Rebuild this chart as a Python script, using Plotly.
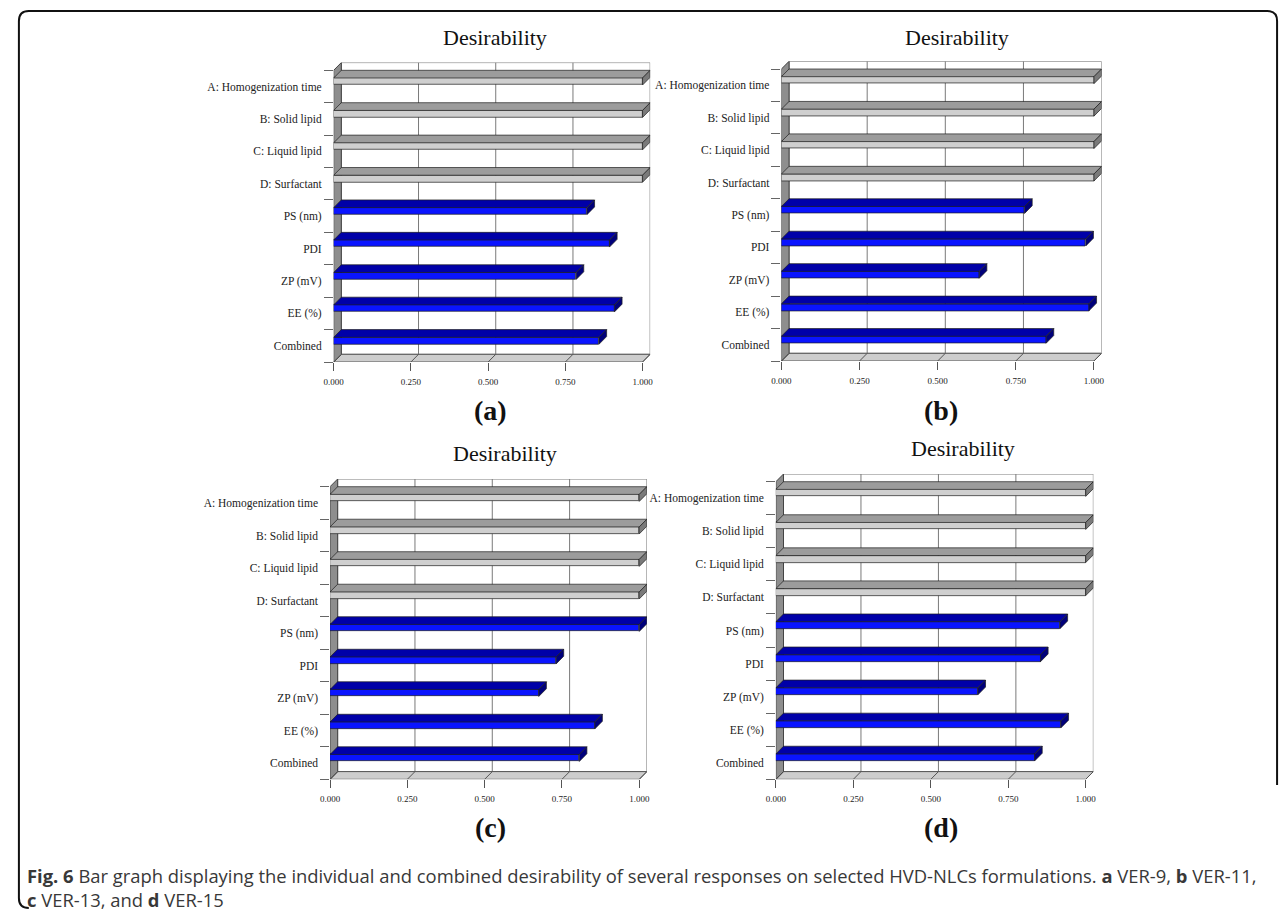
import plotly.graph_objects as go

# ---------------- data ----------------
categories = ["A: Homogenization time", "B: Solid lipid", "C: Liquid lipid", "D: Surfactant",
              "PS (nm)", "PDI", "ZP (mV)", "EE (%)", "Combined"]
factor_flags = [True, True, True, True, False, False, False, False, False]
desirability_a = [1.0, 1.0, 1.0, 1.0, 0.820, 0.893, 0.785, 0.909, 0.859]
desirability_b = [1.0, 1.0, 1.0, 1.0, 0.778, 0.974, 0.633, 0.984, 0.847]
desirability_c = [1.0, 1.0, 1.0, 1.0, 1.000, 0.731, 0.675, 0.856, 0.806]
desirability_d = [1.0, 1.0, 1.0, 1.0, 0.917, 0.854, 0.652, 0.920, 0.835]
x_ticks = [0.0, 0.25, 0.5, 0.75, 1.0]
panel_labels = ["(a)", "(b)", "(c)", "(d)"]
chart_title = "Desirability"
caption = ("<b>Fig. 6</b> Bar graph displaying the individual and combined desirability of several "
           "responses on selected HVD-NLCs formulations. <b>a</b> VER-9, <b>b</b> VER-11,<br>"
           "<b>c</b> VER-13, and <b>d</b> VER-15")

# ---------------- layout geometry (pixels) ----------------
W, H = 1287, 912
DX_PX, DY_PX = 7.7, 7.7
FRONT_PX = 7.0
panels = [
    dict(vals=desirability_a, x0=327.0, x1=639.0, yb=362.0, yt=70.3, title=(490, 37), lab=(485, 410)),
    dict(vals=desirability_b, x0=779.3, x1=1095.0, yb=361.0, yt=69.0, title=(957, 38), lab=(940, 410)),
    dict(vals=desirability_c, x0=323.3, x1=635.7, yb=779.3, yt=486.7, title=(500, 453), lab=(485, 827)),
    dict(vals=desirability_d, x0=773.7, x1=1086.7, yb=779.3, yt=481.7, title=(963, 448), lab=(940, 827)),
]


def fx(X):
    return X / W


def fy(Y):
    return 1 - Y / H


SERIF = "Liberation Serif"
GRAY_TOP, GRAY_FRONT, GRAY_END = "#9c9c9c", "#cfcfcf", "#7a7a7a"
BLUE_TOP, BLUE_FRONT, BLUE_END = "#0000a8", "#0a14ff", "#00007a"
EDGE = "#1e1e1e"

fig = go.Figure()
shapes = []
annotations = []
n = len(categories)

for k, p in enumerate(panels, start=1):
    xa = "x" if k == 1 else f"x{k}"
    ya = "y" if k == 1 else f"y{k}"
    band = (p["yb"] - p["yt"]) / n
    dxu = DX_PX / (p["x1"] - p["x0"])
    dyu = DY_PX / band
    fh = FRONT_PX / band

    fig.update_layout({
        ("xaxis" if k == 1 else f"xaxis{k}"): dict(
            domain=[fx(p["x0"]), fx(p["x1"] + DX_PX)], range=[0, 1 + dxu],
            anchor=ya, showgrid=False, zeroline=False, showline=False,
            tickvals=x_ticks, ticktext=[f"{t:.3f}" for t in x_ticks],
            ticks="outside", ticklen=8, tickcolor="#555555", tickwidth=1,
            tickfont=dict(family=SERIF, size=9, color="#222222"), ticklabelstandoff=3,
            fixedrange=True),
        ("yaxis" if k == 1 else f"yaxis{k}"): dict(
            domain=[fy(p["yb"]), fy(p["yt"] - DY_PX)], range=[0, n + dyu],
            anchor=xa, showgrid=False, zeroline=False, showline=False,
            tickvals=[n - 1 - j + 0.5 for j in range(n)], ticktext=categories,
            ticks="", ticklabelstandoff=11,
            tickfont=dict(family=SERIF, size=11.5, color="#222222"),
            minor=dict(tickvals=list(range(n + 1)), ticks="outside", ticklen=9,
                       tickcolor="#666666", tickwidth=1),
            fixedrange=True),
    })

    # walls / floor / grid (drawn below the bars)
    shapes.append(dict(type="rect", xref=xa, yref=ya, x0=dxu, x1=1 + dxu, y0=dyu, y1=n + dyu,
                       fillcolor="white", line=dict(color="#7a7a7a", width=1), layer="below"))
    for t in x_ticks[1:-1]:
        shapes.append(dict(type="line", xref=xa, yref=ya, x0=t + dxu, x1=t + dxu, y0=dyu, y1=n + dyu,
                           line=dict(color="#7a7a7a", width=1), layer="below"))
    shapes.append(dict(type="path", xref=xa, yref=ya,
                       path=f"M 0 0 L 1 0 L {1 + dxu} {dyu} L {dxu} {dyu} Z",
                       fillcolor="#cdcdcd", line=dict(color="#555555", width=1), layer="below"))
    for t in x_ticks:
        shapes.append(dict(type="line", xref=xa, yref=ya, x0=t, x1=t + dxu, y0=0, y1=dyu,
                           line=dict(color="#555555", width=1), layer="below"))
    shapes.append(dict(type="path", xref=xa, yref=ya,
                       path=f"M 0 0 L 0 {n} L {dxu} {n + dyu} L {dxu} {dyu} Z",
                       fillcolor="#8e8e8e", line=dict(color="#444444", width=1), layer="below"))

    # bars: front faces through the bar trace
    ypos = [n - 1 - j for j in range(n)]
    front_lo = [y + 1 - dyu - fh for y in ypos]
    fig.add_trace(go.Bar(
        x=p["vals"], y=[y + fh / 2 for y in front_lo], base=0, width=fh, orientation="h",
        marker=dict(color=[GRAY_FRONT if f else BLUE_FRONT for f in factor_flags],
                    line=dict(color=EDGE, width=0.7)),
        xaxis=xa, yaxis=ya, showlegend=False, hoverinfo="skip"))

    # 3D top and end faces, computed from the same values
    for flag, ctop, cend in [(True, GRAY_TOP, GRAY_END), (False, BLUE_TOP, BLUE_END)]:
        tx, ty, ex, ey = [], [], [], []
        for j, v in enumerate(p["vals"]):
            if factor_flags[j] != flag:
                continue
            lo = front_lo[j]
            hi = lo + fh
            tx += [0, v, v + dxu, dxu, 0, None]
            ty += [hi, hi, hi + dyu, hi + dyu, hi, None]
            ex += [v, v, v + dxu, v + dxu, v, None]
            ey += [lo, hi, hi + dyu, lo + dyu, lo, None]
        for xs, ys, c in [(tx, ty, ctop), (ex, ey, cend)]:
            fig.add_trace(go.Scatter(x=xs, y=ys, mode="lines", fill="toself", fillcolor=c,
                                     line=dict(color=EDGE, width=0.7), xaxis=xa, yaxis=ya,
                                     showlegend=False, hoverinfo="skip"))

    annotations.append(dict(text=chart_title, x=fx(p["title"][0]), y=fy(p["title"][1]),
                            xref="paper", yref="paper", showarrow=False, xanchor="center",
                            yanchor="middle", font=dict(family=SERIF, size=22, color="#111111")))
    annotations.append(dict(text=f"<b>{panel_labels[k - 1]}</b>", x=fx(p["lab"][0]),
                            y=fy(p["lab"][1]), xref="paper", yref="paper", showarrow=False,
                            xanchor="center", yanchor="middle",
                            font=dict(family=SERIF, size=28, color="#111111")))

annotations.append(dict(text=caption, x=fx(15), y=fy(887), xref="paper", yref="paper",
                        showarrow=False, xanchor="left", yanchor="middle", align="left",
                        font=dict(family="Open Sans, sans-serif", size=18.4, color="#383838")))

# rounded frame around the figure
L, T, R, B, r = 9.0, 11.0, 1280.0, 908.0, 10.0
frame = (f"M {fx(L)} {fy(B - r)} L {fx(L)} {fy(T + r)} Q {fx(L)} {fy(T)} {fx(L + r)} {fy(T)} "
         f"L {fx(R - r)} {fy(T)} Q {fx(R)} {fy(T)} {fx(R)} {fy(T + r)} L {fx(R)} {fy(785)}")
frame2 = f"M {fx(L)} {fy(B - r)} Q {fx(L)} {fy(B)} {fx(L + r)} {fy(B)}"
shapes.append(dict(type="path", xref="paper", yref="paper", path=frame,
                   line=dict(color="#111111", width=2)))
shapes.append(dict(type="path", xref="paper", yref="paper", path=frame2,
                   line=dict(color="#111111", width=2)))

fig.update_layout(width=W, height=H, margin=dict(l=0, r=0, t=0, b=0),
                  paper_bgcolor="white", plot_bgcolor="rgba(0,0,0,0)",
                  shapes=shapes, annotations=annotations, bargap=0)
fig.write_html("out.html", config={"displayModeBar": False},
               post_script="document.body.style.margin='0';document.body.style.overflow='hidden';")
